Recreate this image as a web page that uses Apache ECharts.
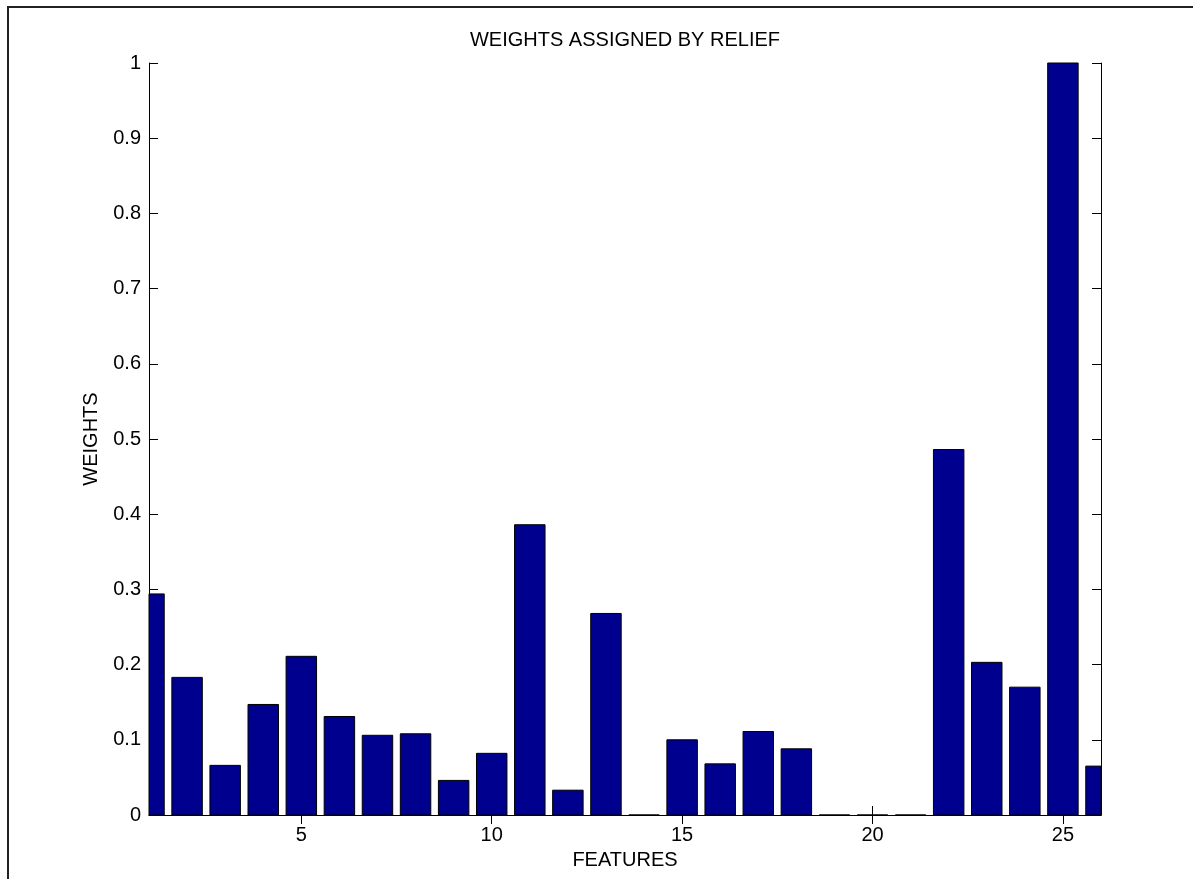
<!DOCTYPE html>
<html>
<head>
<meta charset="utf-8">
<script src="https://cdn.jsdelivr.net/npm/echarts@6/dist/echarts.min.js"></script>
<style>
html,body{margin:0;padding:0;background:#fff;}
#chart{width:1193px;height:879px;}
</style>
</head>
<body>
<div id="chart"></div>
<script>
const features = [1,2,3,4,5,6,7,8,9,10,11,12,13,14,15,16,17,18,19,20,21,22,23,24,25,26];
const weights = [0.294,0.183,0.066,0.147,0.211,0.131,0.106,0.108,0.046,0.082,0.386,0.033,0.268,0,0.100,0.068,0.111,0.088,0,0,0,0.486,0.203,0.170,1.0,0.065];
const xTicks = [5,10,15,20,25];
const titleText = 'WEIGHTS ASSIGNED BY RELIEF';
const xName = 'FEATURES';
const yName = 'WEIGHTS';
const barWidthUnits = 0.8;

const FONT = '"Liberation Sans", Arial, Helvetica, sans-serif';
const chart = echarts.init(document.getElementById('chart'), null, {renderer:'canvas'});
const axisLine = {show:true, lineStyle:{color:'#000', width:1}};
const tick = {show:true, inside:true, length:9, lineStyle:{color:'#000', width:1}};

function renderBar(params, api) {
  const x = api.value(0), y = api.value(1);
  const top = api.coord([x, y]);
  const base = api.coord([x, 0]);
  const w = api.size([barWidthUnits, 0])[0];
  const cs = params.coordSys;
  const rect = echarts.graphic.clipRectByRect(
    {x: top[0] - w / 2, y: top[1], width: w, height: base[1] - top[1]},
    {x: cs.x, y: cs.y, width: cs.width, height: cs.height}
  );
  if (!rect) return null;
  return {type:'rect', shape:rect, style:{fill:'#00008F', stroke:'#000', lineWidth:1}};
}

chart.setOption({
  animation:false,
  backgroundColor:'#fff',
  title:{text:titleText, left:625, top:30, textAlign:'center', padding:0,
    textStyle:{fontFamily:FONT, fontSize:20, fontWeight:'normal', color:'#000'}},
  grid:{left:149, top:63, right:92, bottom:64, containLabel:false},
  xAxis:[
    {type:'value', min:1, max:26, position:'bottom',
     axisLine:axisLine,
     axisTick:Object.assign({}, tick, {customValues:xTicks}),
     axisLabel:{customValues:xTicks, margin:10, fontFamily:FONT, fontSize:20, color:'#000'},
     splitLine:{show:false},
     name:xName, nameLocation:'middle', nameGap:35,
     nameTextStyle:{fontFamily:FONT, fontSize:20, color:'#000'}},
    {type:'value', min:1, max:26, position:'top',
     axisLine:axisLine,
     axisTick:Object.assign({}, tick, {customValues:xTicks}),
     axisLabel:{show:false}, splitLine:{show:false}}
  ],
  yAxis:[
    {type:'value', min:0, max:1, interval:0.1, position:'left',
     axisLine:axisLine, axisTick:tick,
     axisLabel:{margin:8, fontFamily:FONT, fontSize:20, color:'#000'},
     splitLine:{show:false},
     name:yName, nameLocation:'middle', nameGap:48, nameRotate:90,
     nameTextStyle:{fontFamily:FONT, fontSize:20, color:'#000'}},
    {type:'value', min:0, max:1, interval:0.1, position:'right',
     axisLine:axisLine, axisTick:tick,
     axisLabel:{show:false}, splitLine:{show:false}}
  ],
  series:[{
    type:'custom',
    renderItem:renderBar,
    encode:{x:0, y:1},
    data:features.map((f,i)=>[f, weights[i]]),
    z:1
  }],
  graphic:[
    {type:'line', shape:{x1:7, y1:7, x2:1193, y2:7}, style:{stroke:'#222', lineWidth:2}, z:100},
    {type:'line', shape:{x1:8, y1:6, x2:8, y2:879}, style:{stroke:'#222', lineWidth:2}, z:100}
  ]
});
</script>
</body>
</html>
